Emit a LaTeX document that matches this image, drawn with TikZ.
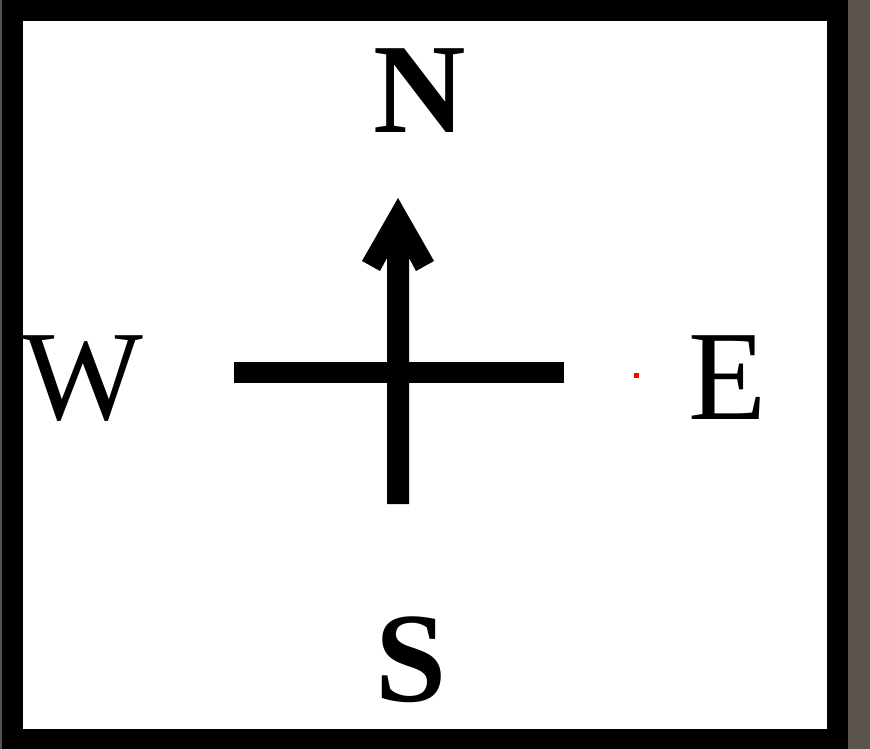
\documentclass[tikz,border=0pt]{standalone}
\usepackage{fontspec}
\setmainfont{Liberation Serif}
\usetikzlibrary{positioning}
\definecolor{compassBack}{HTML}{5B534E}
\definecolor{compassInk}{HTML}{000000}
\definecolor{compassDot}{HTML}{FF0000}

\begin{document}
\begin{tikzpicture}[
  x=1pt,y=-1pt,
  letter/.style={inner sep=0pt,anchor=base,text=compassInk,font=\fontsize{128}{128}\selectfont},
  boldletter/.style={letter,font=\fontsize{128}{128}\selectfont\bfseries},
  bar/.style={fill=compassInk,draw=none}
]
% Fondo, marco negro e interior blanco.
\fill[compassBack] (0,0) rectangle (870,749);
\fill[compassInk] (2,0) rectangle (848,749);
\fill[white] (23,21) rectangle (827,729);
\useasboundingbox (0,0) rectangle (870,749);

\node[boldletter] (north) at (419.5,133) {N};
\node[boldletter] (south) at (411.5,701) {S};
\node[letter] (west) at (83,419) {W};
\node[letter] (east) at (727.5,419) {E};

% Cruz con la flecha hacia el norte.
\coordinate (centre) at (398,372.5);
\fill[bar] (234,362) rectangle (564,383);
\fill[bar] (387,504) -- (387,258) -- (380,271) -- (362,261) -- (398,198)
  -- (434,261) -- (416,271) -- (409,258) -- (409,504) -- cycle;

\fill[compassDot] (633.5,372.5) rectangle (638.5,377.5);
\end{tikzpicture}
\end{document}
